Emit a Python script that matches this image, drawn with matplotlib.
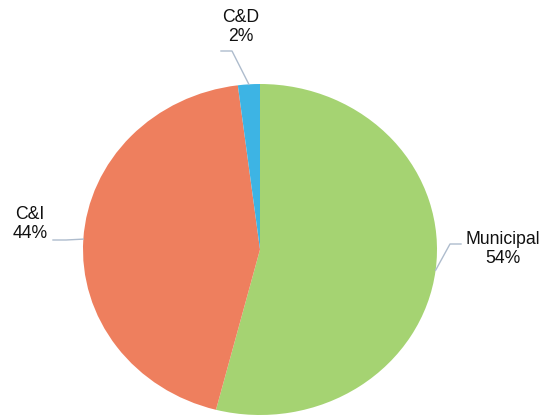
import numpy as np
import matplotlib.pyplot as plt

# data
categories = ['Municipal', 'C&I', 'C&D']
shares = [54, 44, 2]
colors = ['#A5D372', '#EE7F5E', '#3DB4E4']

# label text centres in pixels (x, y from top)
label_px = {'Municipal': (503, 249), 'C&I': (30, 224), 'C&D': (241, 27)}

W, H = 542, 416
fig = plt.figure(figsize=(W / 100, H / 100), dpi=100)
plt.rcParams['font.family'] = ['Liberation Sans', 'DejaVu Sans']

# pie box in pixels (slightly stretched, like the original)
cx, cy, rx, ry = 260, 249.5, 177, 165.5
ax = fig.add_axes([(cx - rx) / W, (H - cy - ry) / H, 2 * rx / W, 2 * ry / H])

wedges, _ = ax.pie(shares, colors=colors, startangle=90, counterclock=False,
                   wedgeprops=dict(linewidth=0))
ax.set_aspect('auto')
ax.set_xlim(-1, 1)
ax.set_ylim(-1, 1)
ax.axis('off')


def to_data(px, py):
    return (px - cx) / rx, (cy - py) / ry


line_col = '#AEBCCD'
for w, name, val in zip(wedges, categories, shares):
    ang = np.deg2rad((w.theta1 + w.theta2) / 2)
    x0, y0 = np.cos(ang), np.sin(ang)
    tx, ty = to_data(*label_px[name])
    ax.text(tx, ty, f'{name}\n{val}%', ha='center', va='center',
            fontsize=12.7, linespacing=1.12, color='#111111')
    # leader line: text side -> short horizontal -> wedge
    if name == 'Municipal':
        pts = [to_data(461, 244), to_data(450, 244)]
    elif name == 'C&I':
        pts = [to_data(53, 240), to_data(66, 240)]
    else:
        pts = [to_data(221, 51), to_data(232, 51)]
    xs = [p[0] for p in pts] + [x0]
    ys = [p[1] for p in pts] + [y0]
    ax.plot(xs, ys, color=line_col, lw=1, clip_on=False)

fig.savefig('out.png', dpi=100)
